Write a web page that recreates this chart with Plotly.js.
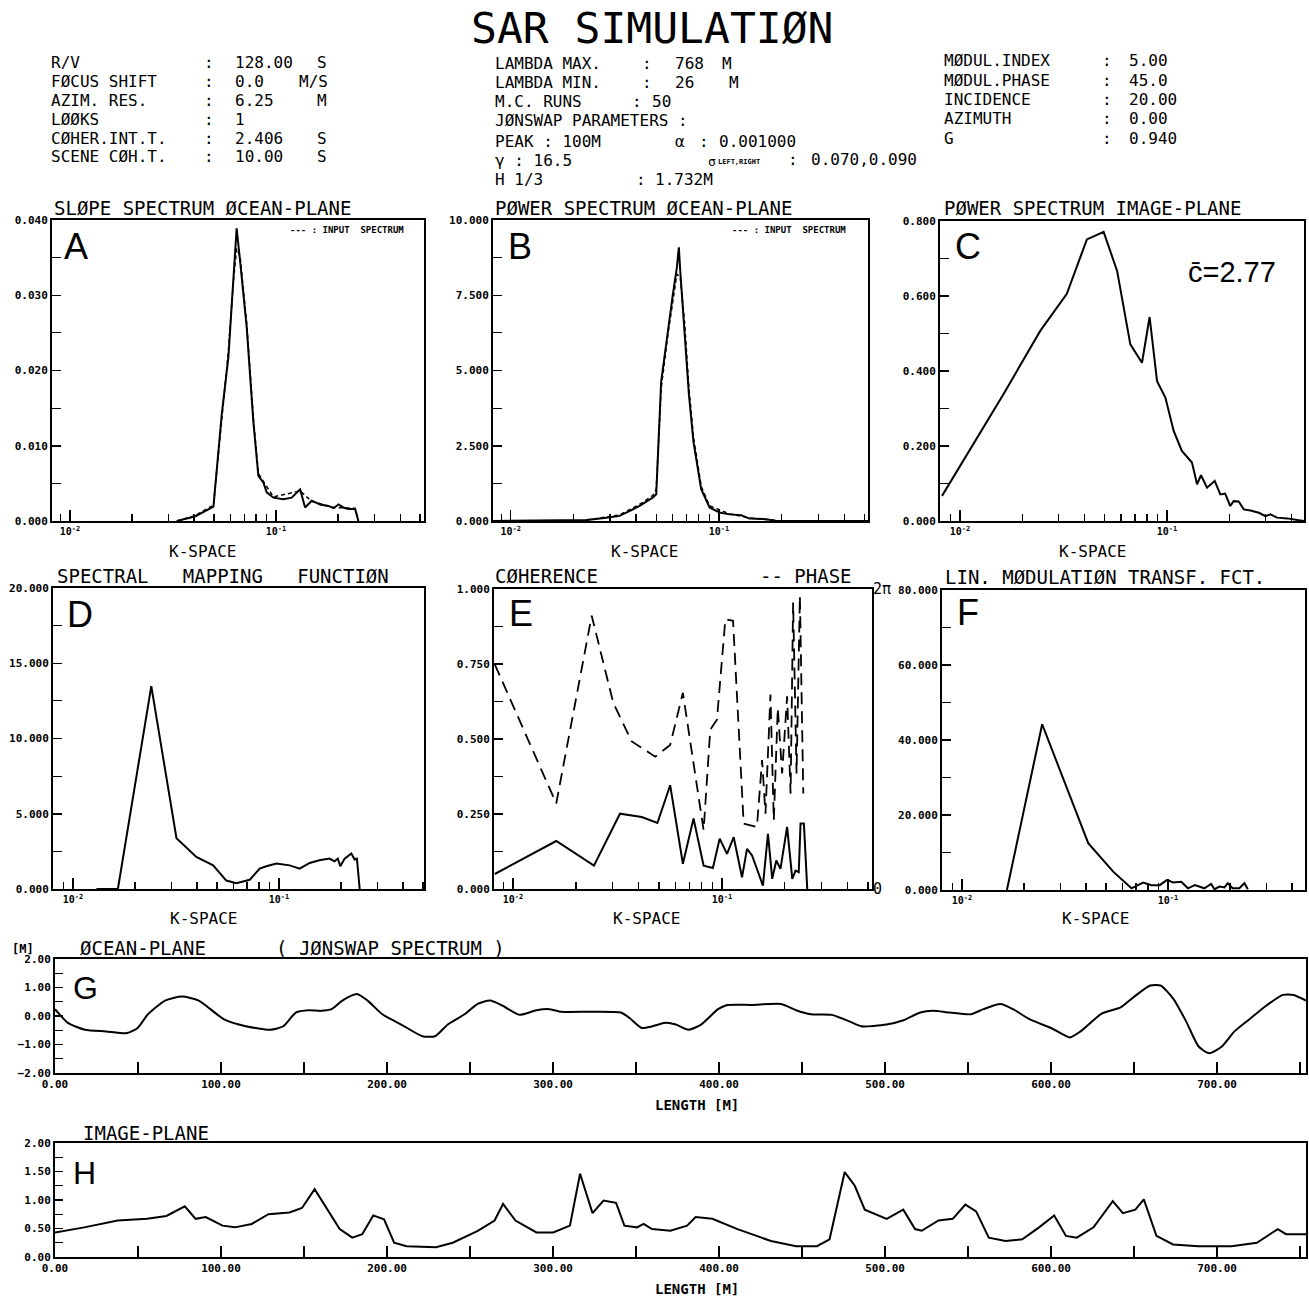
<!DOCTYPE html>
<html>
<head>
<meta charset="utf-8">
<script src="https://cdn.plot.ly/plotly-3.0.1.min.js"></script>
<style>html,body{margin:0;padding:0;background:#fff;}</style>
</head>
<body>
<div id="chart" style="width:1309px;height:1298px;"></div>
<script>
// ---------------- DATA ----------------
// A: slope spectrum ocean-plane (k in rad/m)
const kA = [0.0330, 0.0404, 0.0497, 0.0545, 0.0587, 0.0621, 0.0644, 0.0669, 0.0721, 0.0776, 0.0821, 0.0869, 0.0901, 0.0971, 0.1086, 0.1191, 0.1309, 0.1384, 0.1490, 0.1636, 0.1795, 0.1900, 0.2010, 0.2120, 0.2240, 0.2420, 0.2510];
const slopeA = [0.0000, 0.0006, 0.0019, 0.0141, 0.0217, 0.0324, 0.0389, 0.0346, 0.0257, 0.0132, 0.0060, 0.0051, 0.0038, 0.0031, 0.0029, 0.0031, 0.0042, 0.0018, 0.0027, 0.0022, 0.0020, 0.0017, 0.0022, 0.0018, 0.0016, 0.0016, 0.0000];
const kAin = [0.0330, 0.0404, 0.0497, 0.0545, 0.0587, 0.0621, 0.0644, 0.0669, 0.0721, 0.0776, 0.0821, 0.0971, 0.1309, 0.1490, 0.1900, 0.2420, 0.2510];
const slopeAin = [0.0000, 0.0007, 0.0021, 0.0135, 0.0225, 0.0318, 0.0362, 0.0352, 0.0262, 0.0138, 0.0063, 0.0032, 0.0040, 0.0026, 0.0018, 0.0017, 0.0000];
// B: power spectrum ocean-plane
const kB = [0.00818, 0.0231, 0.0288, 0.0333, 0.0372, 0.0416, 0.0482, 0.0500, 0.0528, 0.0569, 0.0601, 0.0628, 0.0642, 0.0652, 0.0684, 0.0718, 0.0755, 0.0822, 0.0902, 0.1007, 0.1125, 0.1280, 0.1403, 0.1687, 0.1884, 0.5200];
const powB = [0.00, 0.03, 0.11, 0.17, 0.33, 0.50, 0.78, 0.89, 4.63, 6.41, 7.53, 8.42, 9.09, 8.31, 6.41, 4.18, 2.62, 1.06, 0.45, 0.28, 0.22, 0.19, 0.08, 0.06, 0.00, 0.00];
const kBin = [0.0231, 0.0333, 0.0416, 0.0482, 0.0500, 0.0528, 0.0569, 0.0601, 0.0628, 0.0652, 0.0684, 0.0718, 0.0755, 0.0822, 0.0902, 0.1125, 0.1403, 0.1884];
const powBin = [0.03, 0.20, 0.55, 0.85, 1.05, 4.40, 6.20, 7.40, 8.20, 8.10, 6.60, 4.40, 2.80, 1.15, 0.50, 0.24, 0.10, 0.02];
// C: power spectrum image-plane
const kC = [0.00818, 0.0162, 0.0244, 0.0328, 0.0410, 0.0494, 0.0574, 0.0665, 0.0757, 0.0824, 0.0895, 0.0982, 0.1077, 0.1180, 0.1320, 0.1397, 0.1460, 0.1560, 0.1700, 0.1810, 0.1910, 0.2020, 0.2100, 0.2220, 0.2350, 0.2530, 0.2780, 0.2990, 0.3160, 0.3400, 0.3810, 0.4260, 0.4590];
const powC = [0.067, 0.338, 0.507, 0.606, 0.751, 0.771, 0.667, 0.471, 0.422, 0.544, 0.373, 0.329, 0.240, 0.187, 0.156, 0.098, 0.122, 0.089, 0.107, 0.071, 0.073, 0.040, 0.053, 0.052, 0.031, 0.028, 0.022, 0.013, 0.018, 0.009, 0.007, 0.002, 0.000];
// D: spectral mapping function
const kD = [0.0130, 0.01652, 0.0240, 0.0318, 0.0397, 0.0479, 0.0555, 0.0621, 0.0721, 0.0806, 0.0868, 0.0971, 0.1127, 0.1260, 0.1410, 0.1570, 0.1760, 0.1860, 0.1930, 0.1985, 0.2083, 0.2245, 0.2330, 0.2390, 0.2465];
const mapD = [0.00, 0.00, 13.48, 3.37, 2.13, 1.57, 0.56, 0.38, 0.61, 1.35, 1.51, 1.69, 1.57, 1.35, 1.73, 1.91, 2.02, 1.84, 2.02, 1.51, 2.02, 2.36, 1.96, 2.02, 0.00];
// E: coherence (solid) and phase / 2pi (dashed)
const kE = [0.00818, 0.0161, 0.0244, 0.0325, 0.0413, 0.0491, 0.0565, 0.0650, 0.0731, 0.0817, 0.0905, 0.0975, 0.1057, 0.1138, 0.1247, 0.1318, 0.1393, 0.1445, 0.1500, 0.1570, 0.1660, 0.1740, 0.1820, 0.1905, 0.2050, 0.2170, 0.2250, 0.2330, 0.2377, 0.2466, 0.2560];
const cohE = [0.050, 0.160, 0.078, 0.251, 0.240, 0.220, 0.346, 0.084, 0.235, 0.078, 0.070, 0.168, 0.117, 0.173, 0.039, 0.134, 0.112, 0.078, 0.050, 0.011, 0.184, 0.034, 0.095, 0.067, 0.207, 0.034, 0.061, 0.056, 0.218, 0.218, 0.000];
const kPh = [0.00818, 0.0161, 0.0238, 0.0302, 0.0370, 0.0479, 0.0565, 0.0650, 0.0817, 0.0879, 0.0946, 0.1038, 0.1130, 0.1270, 0.1470, 0.1556, 0.1615, 0.1706, 0.1770, 0.1850, 0.1940, 0.2050, 0.2130, 0.2190, 0.2275, 0.2360, 0.2450];
const phaseE = [0.749, 0.285, 0.911, 0.620, 0.492, 0.441, 0.480, 0.654, 0.196, 0.531, 0.564, 0.899, 0.894, 0.218, 0.207, 0.430, 0.251, 0.648, 0.229, 0.603, 0.385, 0.642, 0.318, 0.955, 0.385, 0.977, 0.318];
// F: linear modulation transfer function
const kF = [0.01652, 0.0245, 0.0410, 0.0542, 0.0665, 0.0757, 0.0830, 0.0912, 0.0989, 0.1057, 0.1160, 0.1250, 0.1350, 0.1500, 0.1620, 0.1680, 0.1780, 0.1880, 0.1950, 0.2060, 0.2220, 0.2350, 0.2440];
const mtfF = [0.0, 44.2, 12.5, 4.9, 0.45, 2.0, 1.3, 1.3, 2.7, 2.0, 2.2, 0.45, 1.3, 0.45, 1.6, 0.2, 0.9, 0.7, 1.8, 0.45, 0.45, 1.8, 0.2];
// G: ocean-plane elevation [m] vs length [m]
const xG = [0, 7.8, 18.0, 30.7, 43.4, 49.8, 56.0, 66.3, 76.5, 86.6, 101.9, 114.9, 129.8, 137.5, 145.1, 152.7, 160.4, 166.6, 173.1, 181.9, 188.3, 197.2, 208.6, 221.3, 228.9, 236.6, 246.7, 254.4, 262.0, 269.7, 279.8, 290.0, 297.6, 305.2, 323.0, 340.8, 345.9, 353.5, 359.9, 367.7, 374.0, 381.6, 389.2, 399.4, 404.5, 419.7, 437.5, 446.4, 455.3, 468.0, 478.1, 485.7, 500.9, 511.1, 521.2, 528.9, 539.0, 551.7, 559.3, 569.5, 577.1, 587.3, 600.0, 611.4, 617.8, 630.5, 641.9, 649.5, 659.7, 666.0, 673.7, 681.3, 688.9, 695.3, 702.9, 710.5, 719.4, 729.6, 739.7, 746.1, 753.6];
const elevG = [0.24, -0.24, -0.48, -0.54, -0.60, -0.42, 0.06, 0.54, 0.68, 0.54, -0.12, -0.36, -0.48, -0.36, 0.12, 0.20, 0.18, 0.24, 0.54, 0.77, 0.54, 0.06, -0.30, -0.71, -0.71, -0.30, 0.06, 0.42, 0.54, 0.36, 0.04, 0.20, 0.24, 0.15, 0.15, 0.12, -0.06, -0.42, -0.36, -0.24, -0.30, -0.48, -0.30, 0.24, 0.38, 0.39, 0.42, 0.20, 0.06, 0.04, -0.18, -0.36, -0.30, -0.15, 0.12, 0.18, 0.12, 0.06, 0.24, 0.42, 0.24, -0.12, -0.42, -0.75, -0.54, 0.08, 0.30, 0.65, 1.07, 1.07, 0.60, -0.18, -1.07, -1.31, -1.07, -0.54, -0.12, 0.36, 0.74, 0.74, 0.54];
// H: image-plane intensity vs length [m]
const xH = [0, 17.6, 37.8, 55.5, 67.1, 78.2, 84.7, 90.8, 100.9, 108.4, 118.5, 128.6, 141.2, 148.8, 156.4, 163.9, 171.5, 179.1, 185.1, 191.7, 198.2, 204.3, 211.8, 229.5, 239.6, 254.7, 264.8, 269.9, 277.4, 290.0, 300.1, 310.2, 316.3, 323.8, 330.4, 338.0, 343.0, 350.6, 354.6, 359.6, 370.7, 380.8, 385.9, 396.0, 411.1, 431.3, 446.4, 459.0, 466.6, 475.7, 481.8, 487.8, 501.0, 511.0, 518.1, 522.1, 532.2, 540.8, 548.4, 554.9, 562.5, 572.6, 582.7, 592.8, 601.9, 609.0, 615.5, 625.6, 637.2, 643.3, 650.8, 655.9, 663.5, 673.5, 688.7, 708.8, 724.0, 736.6, 741.6, 753.6];
const intH = [0.43, 0.52, 0.64, 0.67, 0.72, 0.89, 0.67, 0.70, 0.55, 0.52, 0.58, 0.75, 0.78, 0.86, 1.19, 0.83, 0.49, 0.34, 0.40, 0.73, 0.66, 0.25, 0.19, 0.17, 0.25, 0.46, 0.64, 0.93, 0.64, 0.43, 0.43, 0.55, 1.46, 0.77, 0.99, 0.95, 0.55, 0.52, 0.58, 0.49, 0.46, 0.55, 0.70, 0.67, 0.49, 0.28, 0.19, 0.19, 0.31, 1.49, 1.25, 0.83, 0.67, 0.83, 0.49, 0.46, 0.64, 0.67, 0.92, 0.80, 0.34, 0.28, 0.31, 0.52, 0.73, 0.37, 0.34, 0.52, 0.98, 0.77, 0.83, 1.01, 0.37, 0.22, 0.19, 0.19, 0.25, 0.49, 0.40, 0.40];

// Tick labels
const kTickVals = [0.01, 0.1];
const kTickText = ['10<sup>-2</sup>', '10<sup>-1</sup>'];
const kMinorVals = [0.009, 0.02, 0.03, 0.04, 0.05, 0.06, 0.07, 0.08, 0.09, 0.2, 0.3, 0.4, 0.5];
const phaseTickText = ['0', '2π'];

// Header texts
const mainTitle = 'SAR SIMULATIØN';
const hdrLeftLabels = ['R/V', 'FØCUS SHIFT', 'AZIM. RES.', 'LØØKS', 'CØHER.INT.T.', 'SCENE CØH.T.'];
const hdrLeftValues = ['128.00', '0.0', '6.25', '1', '2.406', '10.00'];
const hdrLeftUnits = ['S', 'M/S', 'M', '', 'S', 'S'];
const hdrMidLabels = ['LAMBDA MAX.', 'LAMBDA MIN.', 'M.C. RUNS'];
const hdrMidValues = ['768', '26', '50'];
const hdrMidUnits = ['M', 'M', ''];
const hdrJonswap = 'JØNSWAP PARAMETERS :';
const hdrPeak = 'PEAK : 100M';
const hdrAlpha = ['α', '0.001000'];
const hdrGamma = 'γ : 16.5';
const hdrSigma = ['σ', 'LEFT,RIGHT', '0.070,0.090'];
const hdrH13 = ['H 1/3', '1.732M'];
const hdrRightLabels = ['MØDUL.INDEX', 'MØDUL.PHASE', 'INCIDENCE', 'AZIMUTH', 'G'];
const hdrRightValues = ['5.00', '45.0', '20.00', '0.00', '0.940'];
const panelTitles = ['SLØPE SPECTRUM ØCEAN-PLANE', 'PØWER SPECTRUM ØCEAN-PLANE', 'PØWER SPECTRUM IMAGE-PLANE',
  'SPECTRAL   MAPPING   FUNCTIØN', 'CØHERENCE', 'LIN. MØDULATIØN TRANSF. FCT.'];
const panelLetters = ['A', 'B', 'C', 'D', 'E', 'F', 'G', 'H'];

// ---------------- LAYOUT HELPERS ----------------
const W = 1309, H = 1298;
const MONO = 'DejaVu Sans Mono';
const SANS = 'Liberation Sans';
const HS = 16; // header font size
const px = x => x / W;
const py = y => 1 - y / H;

const ann = [];
function txt(x, y, text, size, extra) {
  const a = {xref: 'paper', yref: 'paper', x: px(x), y: py(y), text: text, showarrow: false,
    xanchor: 'left', yanchor: 'middle', font: {family: MONO, size: size, color: 'black'}};
  if (extra) {
    if (extra.font) { Object.assign(a.font, extra.font); }
    for (const k in extra) { if (k !== 'font') a[k] = extra[k]; }
  }
  ann.push(a);
}

// Panel boxes [x0,x1,y0(top),y1(bottom)] and log ranges
const boxes = [
  [52, 424, 220, 521], [493, 868, 220, 521], [940, 1304, 221, 521],
  [53, 424, 588, 889], [494, 872, 589, 889], [942, 1305, 590, 890],
  [55, 1306, 959, 1073], [55, 1306, 1143, 1257]
];
const logRanges = [[-2.087, -0.282], [-2.085, -0.284], [-2.097, -0.338], [-2.097, -0.296], [-2.091, -0.282], [-2.097, -0.335]];
const yMax = [0.040, 10, 0.8, 20, 1, 80];
const yStep = [0.010, 2.5, 0.2, 5, 0.25, 20];

const layout = {
  width: W, height: H, margin: {l: 0, r: 0, t: 0, b: 0},
  paper_bgcolor: 'white', plot_bgcolor: 'white', showlegend: false,
  font: {family: MONO, color: 'black'}
};

const frame = {showline: true, mirror: true, linewidth: 2, linecolor: 'black', showgrid: false, zeroline: false, fixedrange: true};
const traces = [];

for (let i = 0; i < 6; i++) {
  const b = boxes[i], n = i + 1;
  layout['xaxis' + n] = Object.assign({}, frame, {
    domain: [px(b[0]), px(b[1])], anchor: 'y' + n, type: 'log', range: logRanges[i],
    tickmode: 'array', tickvals: kTickVals, ticktext: kTickText,
    ticks: 'inside', ticklen: 11, tickwidth: 1.5, tickcolor: 'black',
    tickfont: {family: MONO, size: 10, weight: 'bold'}
  });
  // overlay axis carrying the minor (unlabelled) log ticks
  const m = 10 + i;
  layout['xaxis' + m] = {
    overlaying: 'x' + n, anchor: 'y' + n, side: 'bottom', type: 'log', range: logRanges[i],
    tickmode: 'array', tickvals: kMinorVals, showticklabels: false,
    ticks: 'inside', ticklen: 7, tickwidth: 1.2, tickcolor: 'black',
    showline: false, showgrid: false, zeroline: false, fixedrange: true
  };
  traces.push({x: [0.01], y: [0], xaxis: 'x' + m, yaxis: 'y' + n, mode: 'markers', marker: {opacity: 0}, hoverinfo: 'skip', name: 'minor ticks'});
  layout['yaxis' + n] = Object.assign({}, frame, {
    domain: [py(b[3]), py(b[2])], anchor: 'x' + n, range: [0, yMax[i]],
    tickmode: 'linear', tick0: 0, dtick: yStep[i], tickformat: '.3f',
    ticks: 'inside', ticklen: 9, tickwidth: 1.5, tickcolor: 'black',
    tickfont: {family: MONO, size: 11, weight: 'bold'},
    minor: {dtick: yStep[i] / 2, ticks: 'inside', ticklen: 9, tickwidth: 1.2, tickcolor: 'black'}
  });
}
// G and H (linear length axes)
const gh = [[7, -2, 2, 1], [8, 0, 2, 0.5]];
gh.forEach(function (g) {
  const n = g[0], b = boxes[n - 1];
  layout['xaxis' + n] = Object.assign({}, frame, {
    domain: [px(b[0]), px(b[1])], anchor: 'y' + n, range: [0, 753.6],
    tickmode: 'linear', tick0: 0, dtick: 100, tickformat: '.2f',
    ticks: 'inside', ticklen: 11, tickwidth: 1.5, tickcolor: 'black',
    tickfont: {family: MONO, size: 11, weight: 'bold'},
    minor: {dtick: 50, ticks: 'inside', ticklen: 11, tickwidth: 1.5, tickcolor: 'black'}
  });
  layout['yaxis' + n] = Object.assign({}, frame, {
    domain: [py(b[3]), py(b[2])], anchor: 'x' + n, range: [g[1], g[2]],
    tickmode: 'linear', tick0: 0, dtick: g[3], tickformat: '.2f',
    ticks: 'inside', ticklen: 8, tickwidth: 1.5, tickcolor: 'black',
    tickfont: {family: MONO, size: 11, weight: 'bold'},
    minor: {dtick: g[3] / 2, ticks: 'inside', ticklen: 8, tickwidth: 1.2, tickcolor: 'black'}
  });
});
// E right axis (phase 0..2pi)
layout.yaxis9 = {
  overlaying: 'y5', anchor: 'x5', side: 'right', range: [0, 1],
  tickmode: 'array', tickvals: [0, 1], ticktext: phaseTickText,
  ticks: '', showline: false, showgrid: false, zeroline: false, fixedrange: true,
  tickfont: {family: MONO, size: 15}
};

// ---------------- TRACES ----------------
const solid = {color: 'black', width: 2};
traces.push(
  {x: kAin, y: slopeAin, xaxis: 'x', yaxis: 'y', mode: 'lines', line: {color: 'black', width: 1.5, dash: '4px,3px'}, name: 'input spectrum'},
  {x: kA, y: slopeA, xaxis: 'x', yaxis: 'y', mode: 'lines', line: solid, name: 'slope spectrum'},
  {x: kBin, y: powBin, xaxis: 'x2', yaxis: 'y2', mode: 'lines', line: {color: 'black', width: 1.5, dash: '4px,3px'}, name: 'input spectrum'},
  {x: kB, y: powB, xaxis: 'x2', yaxis: 'y2', mode: 'lines', line: solid, name: 'power spectrum ocean'},
  {x: kC, y: powC, xaxis: 'x3', yaxis: 'y3', mode: 'lines', line: solid, name: 'power spectrum image'},
  {x: kD, y: mapD, xaxis: 'x4', yaxis: 'y4', mode: 'lines', line: solid, name: 'mapping function'},
  {x: kE, y: cohE, xaxis: 'x5', yaxis: 'y5', mode: 'lines', line: solid, name: 'coherence'},
  {x: kPh, y: phaseE, xaxis: 'x5', yaxis: 'y5', mode: 'lines', line: {color: 'black', width: 1.8, dash: '12px,7px'}, name: 'phase'},
  {x: kF, y: mtfF, xaxis: 'x6', yaxis: 'y6', mode: 'lines', line: solid, name: 'MTF'},
  {x: xG, y: elevG, xaxis: 'x7', yaxis: 'y7', mode: 'lines', line: {color: 'black', width: 2, shape: 'spline', smoothing: 0.6}, name: 'ocean-plane'},
  {x: xH, y: intH, xaxis: 'x8', yaxis: 'y8', mode: 'lines', line: solid, name: 'image-plane'},
  {x: [0.01], y: [0], xaxis: 'x5', yaxis: 'y9', mode: 'markers', marker: {opacity: 0}, hoverinfo: 'skip', name: 'phase axis'}
);

// ---------------- ANNOTATIONS ----------------
txt(652, 1, mainTitle, 43, {xanchor: 'center', yanchor: 'top'});
// left header block
const leftRowsY = [62, 81, 100, 119, 138, 157];
hdrLeftLabels.forEach(function (s, i) {
  txt(49, leftRowsY[i], s, HS);
  txt(209, leftRowsY[i], ':', HS, {xanchor: 'center'});
  txt(233, leftRowsY[i], hdrLeftValues[i], HS);
  if (hdrLeftUnits[i]) txt(hdrLeftUnits[i] === 'M/S' ? 297 : 315, leftRowsY[i], hdrLeftUnits[i], HS);
});
// middle header block
const midRowsY = [63, 82, 101, 121, 141, 160, 180];
const midColon = [647, 647, 637];
const midValX = [673, 673, 650];
const midUnitX = [720, 727, 0];
hdrMidLabels.forEach(function (s, i) {
  txt(493, midRowsY[i], s, HS);
  txt(midColon[i], midRowsY[i], ':', HS, {xanchor: 'center'});
  txt(midValX[i], midRowsY[i], hdrMidValues[i], HS);
  if (hdrMidUnits[i]) txt(midUnitX[i], midRowsY[i], hdrMidUnits[i], HS);
});
txt(493, midRowsY[3], hdrJonswap, HS);
txt(493, midRowsY[4], hdrPeak, HS);
txt(673, midRowsY[4], hdrAlpha[0], HS);
txt(704, midRowsY[4], ':', HS, {xanchor: 'center'});
txt(717, midRowsY[4], hdrAlpha[1], HS);
txt(493, midRowsY[5], hdrGamma, HS);
txt(706, midRowsY[5] + 1, hdrSigma[0], 13);
txt(716, midRowsY[5] + 2, hdrSigma[1], 7, {font: {weight: 'bold'}});
txt(793, midRowsY[5] - 1, ':', HS, {xanchor: 'center'});
txt(809, midRowsY[5] - 1, hdrSigma[2], HS);
txt(493, midRowsY[6], hdrH13[0], HS);
txt(641, midRowsY[6], ':', HS, {xanchor: 'center'});
txt(653, midRowsY[6], hdrH13[1], HS);
// right header block
const rightRowsY = [61, 80, 99, 118, 138];
hdrRightLabels.forEach(function (s, i) {
  txt(942, rightRowsY[i], s, HS);
  txt(1107, rightRowsY[i], ':', HS, {xanchor: 'center'});
  txt(1127, rightRowsY[i], hdrRightValues[i], HS);
});

// panel titles
txt(52, 208, panelTitles[0], 19);
txt(493, 208, panelTitles[1], 19);
txt(942, 208, panelTitles[2], 19);
txt(55, 576, panelTitles[3], 19);
txt(493, 576, panelTitles[4], 19);
txt(758, 576, '-- PHASE', 19);
txt(943, 577, panelTitles[5], 19);
txt(78, 948, 'ØCEAN-PLANE', 19);
txt(274, 948, '( JØNSWAP SPECTRUM )', 19);
txt(10, 949, '[M]', 12, {font: {weight: 'bold'}});
txt(81, 1133, 'IMAGE-PLANE', 19);

// legends of A and B
txt(288, 230, '--- : INPUT  SPECTRUM', 9, {font: {weight: 'bold'}});
txt(730, 230, '--- : INPUT  SPECTRUM', 9, {font: {weight: 'bold'}});

// K-SPACE and LENGTH labels
[[202, 551], [644, 551], [1092, 551], [203, 918], [646, 918], [1095, 918]].forEach(function (p) {
  txt(p[0], p[1], 'K-SPACE', 16, {xanchor: 'center'});
});
txt(697, 1105, 'LENGTH [M]', 14, {xanchor: 'center', font: {weight: 'bold'}});
txt(697, 1289, 'LENGTH [M]', 14, {xanchor: 'center', font: {weight: 'bold'}});

// panel letters
const letterPos = [[62, 246, 36], [506, 246, 36], [953, 246, 36], [65, 614, 36], [507, 613, 36], [955, 612, 36], [71, 988, 32], [71, 1173, 32]];
panelLetters.forEach(function (L, i) {
  txt(letterPos[i][0], letterPos[i][1], L, letterPos[i][2], {font: {family: SANS}});
});
// mean c in panel C
txt(1186, 272, 'c\u0304=2.77', 29, {font: {family: SANS}});

layout.annotations = ann;

Plotly.newPlot('chart', traces, layout, {displayModeBar: false, staticPlot: true});
</script>
</body>
</html>
